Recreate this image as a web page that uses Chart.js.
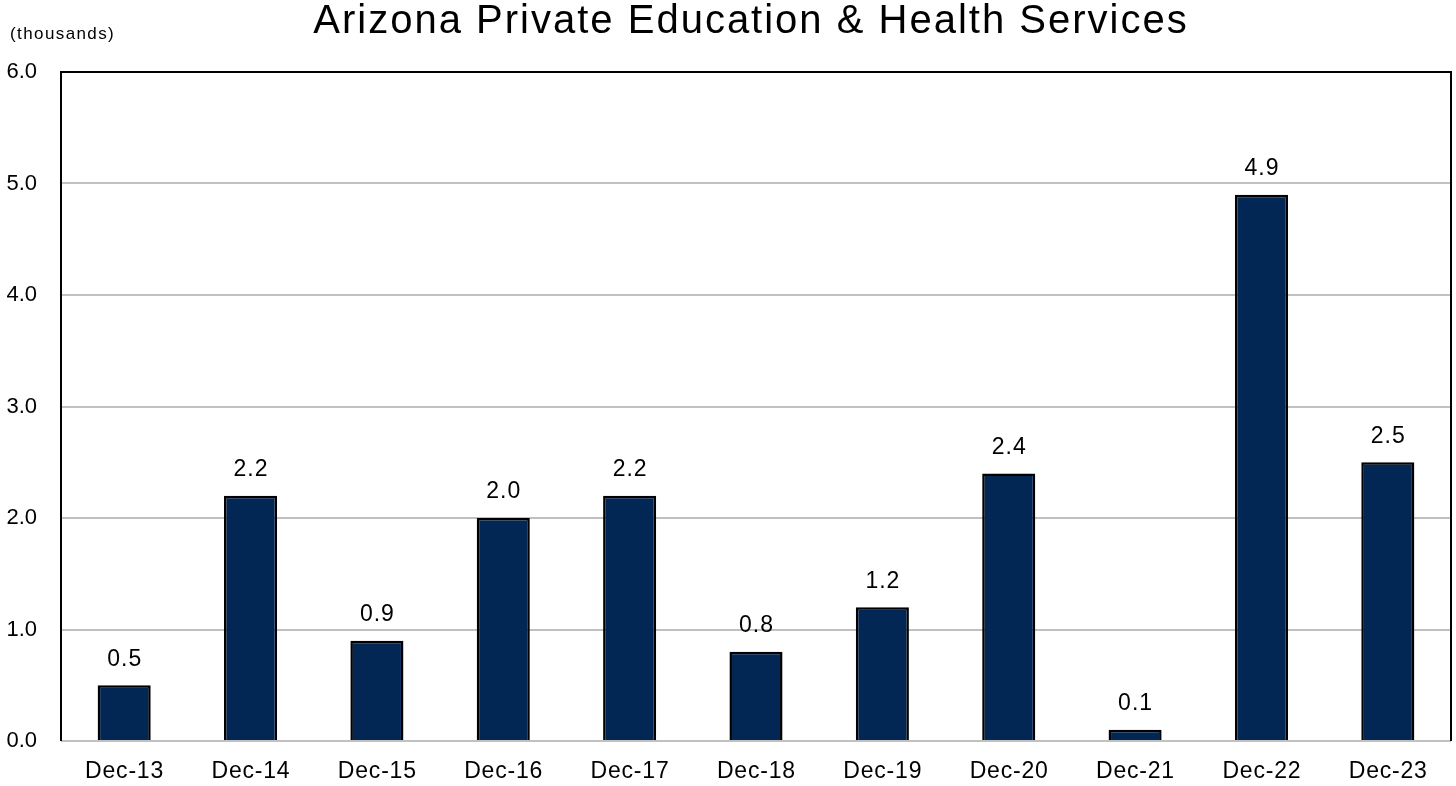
<!DOCTYPE html>
<html>
<head>
<meta charset="utf-8">
<script src="https://cdn.jsdelivr.net/npm/chart.js@4"></script>
<style>
  html, body { margin: 0; padding: 0; background: #fff; }
  #wrap { width: 1456px; height: 786px; }
</style>
</head>
<body>
<div id="wrap"><canvas id="chartCanvas" width="1456" height="786"></canvas></div>
<script>
const labels = ["Dec-13", "Dec-14", "Dec-15", "Dec-16", "Dec-17", "Dec-18", "Dec-19", "Dec-20", "Dec-21", "Dec-22", "Dec-23"];
const jobs = [0.5, 2.2, 0.9, 2.0, 2.2, 0.8, 1.2, 2.4, 0.1, 4.9, 2.5];
const yTicks = [0, 1, 2, 3, 4, 5, 6];

const FONT = "'Liberation Sans', Arial, sans-serif";

// centred text with extra tracking (trailing space compensated)
function spacedText(ctx, text, x, y, spacing) {
  ctx.letterSpacing = spacing + "px";
  ctx.fillText(text, x + spacing / 2, y);
  ctx.letterSpacing = "0px";
}

// title, units note, frame, category labels and value labels
const extras = {
  id: "extras",
  afterDatasetsDraw(chart) {
    const { ctx, chartArea } = chart;
    ctx.save();
    ctx.strokeStyle = "#000";
    ctx.lineWidth = 2;
    ctx.beginPath();
    ctx.moveTo(chartArea.left, chartArea.bottom);
    ctx.lineTo(chartArea.left, chartArea.top);
    ctx.lineTo(chartArea.right, chartArea.top);
    ctx.lineTo(chartArea.right, chartArea.bottom);
    ctx.stroke();

    ctx.fillStyle = "#000";
    ctx.textAlign = "center";
    ctx.textBaseline = "middle";
    ctx.font = "40px " + FONT;
    spacedText(ctx, "Arizona Private Education & Health Services", 750, 22, 2);

    ctx.textAlign = "left";
    ctx.font = "17px " + FONT;
    ctx.letterSpacing = "1.4px";
    ctx.fillText("(thousands)", 10, 34);
    ctx.letterSpacing = "0px";

    ctx.textAlign = "center";
    ctx.font = "23px " + FONT;
    const xScale = chart.scales.x;
    labels.forEach((lab, i) => {
      spacedText(ctx, lab, xScale.getPixelForValue(i), 772, 0.8);
    });

    const meta = chart.getDatasetMeta(0);
    meta.data.forEach((bar, i) => {
      spacedText(ctx, jobs[i].toFixed(1), bar.x, bar.y - 26, 1);
    });
    ctx.restore();
  }
};

new Chart(document.getElementById("chartCanvas"), {
  type: "bar",
  data: {
    labels,
    datasets: [{
      data: jobs,
      backgroundColor: "#022754",
      borderColor: "#000",
      borderWidth: 2.5,
      categoryPercentage: 1,
      barPercentage: 0.42
    }]
  },
  options: {
    responsive: false,
    animation: false,
    layout: { padding: { top: 72, right: 5, left: 0, bottom: 0 } },
    plugins: { legend: { display: false }, tooltip: { enabled: false } },
    scales: {
      x: {
        grid: { display: false },
        border: { display: false },
        ticks: { color: "rgba(0,0,0,0)", font: { family: FONT, size: 20 }, padding: 14, maxRotation: 0 },
        afterFit: s => { s.height = 45; }
      },
      y: {
        min: 0,
        max: 6,
        afterBuildTicks: s => { s.ticks = yTicks.map(v => ({ value: v })); },
        grid: { color: "#c0c0c0", lineWidth: 2, drawTicks: false },
        border: { display: false },
        ticks: {
          color: "#000",
          font: { family: FONT, size: 22 },
          padding: 24,
          callback: v => v.toFixed(1)
        },
        afterFit: s => { s.width = 61; }
      }
    }
  },
  plugins: [extras]
});
</script>
</body>
</html>
